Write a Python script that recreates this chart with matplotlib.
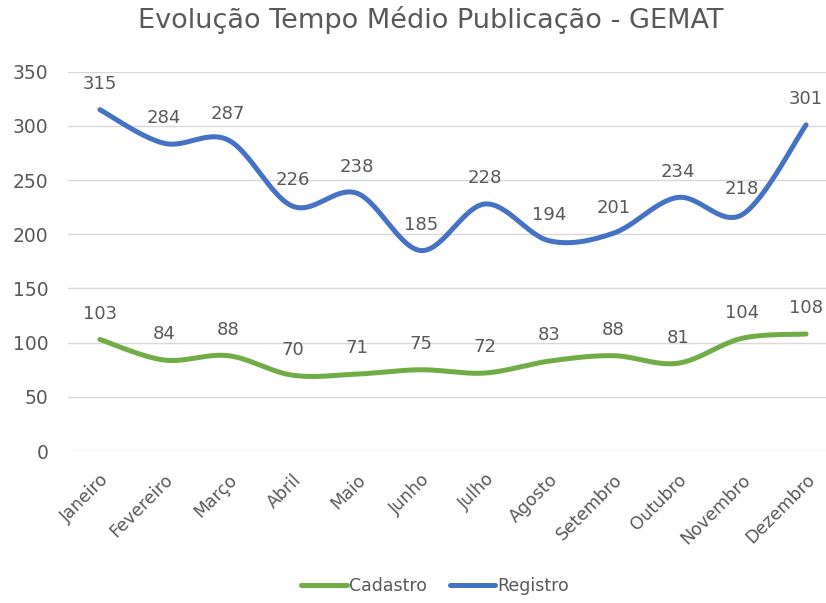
from matplotlib import pyplot as plt
import numpy as np

meses = ['Janeiro', 'Fevereiro', 'Março', 'Abril', 'Maio', 'Junho', 'Julho',
         'Agosto', 'Setembro', 'Outubro', 'Novembro', 'Dezembro']
cadastro = [103, 84, 88, 70, 71, 75, 72, 83, 88, 81, 104, 108]
registro = [315, 284, 287, 226, 238, 185, 228, 194, 201, 234, 218, 301]

cinza = '#595959'
plt.rcParams['font.family'] = ['DejaVu Sans']


def suave(x, y, n=30):
    # curva suavizada estilo Excel (Catmull-Rom em Bezier)
    x = np.asarray(x, float)
    y = np.asarray(y, float)
    px = np.concatenate([[x[0]], x, [x[-1]]])
    py = np.concatenate([[y[0]], y, [y[-1]]])
    xs, ys = [], []
    t = np.linspace(0, 1, n)
    for i in range(1, len(px) - 2):
        p0 = np.array([px[i], py[i]])
        p3 = np.array([px[i + 1], py[i + 1]])
        c1 = p0 + (np.array([px[i + 1], py[i + 1]]) - np.array([px[i - 1], py[i - 1]])) / 6
        c2 = p3 - (np.array([px[i + 2], py[i + 2]]) - np.array([px[i], py[i]])) / 6
        b = ((1 - t) ** 3)[:, None] * p0 + (3 * (1 - t) ** 2 * t)[:, None] * c1 \
            + (3 * (1 - t) * t ** 2)[:, None] * c2 + (t ** 3)[:, None] * p3
        xs.extend(b[:, 0])
        ys.extend(b[:, 1])
    return xs, ys


fig = plt.figure(figsize=(8.26, 6.03), dpi=100)
ax = fig.add_axes([0.082, 0.252, 0.918, 0.629])

x = np.arange(len(meses))
sx, sy = suave(x, cadastro)
ax.plot(sx, sy, color='#70AD47', lw=3.6, solid_capstyle='round', label='Cadastro')
sx, sy = suave(x, registro)
ax.plot(sx, sy, color='#4472C4', lw=3.6, solid_capstyle='round', label='Registro')

for xi, v in zip(x, cadastro):
    ax.annotate(str(v), (xi, v), xytext=(0, 12), textcoords='offset points',
                ha='center', va='bottom', fontsize=13, color=cinza)
for xi, v in zip(x, registro):
    ax.annotate(str(v), (xi, v), xytext=(0, 12), textcoords='offset points',
                ha='center', va='bottom', fontsize=13, color=cinza)

ax.set_xlim(-0.5, 11.31)
ax.set_ylim(0, 350)
ax.set_yticks(range(0, 351, 50))
ax.set_xticks(x)
ax.set_xticklabels(meses, rotation=45, ha='right', rotation_mode='anchor')
ax.tick_params(axis='y', length=0, pad=14, labelsize=13.5, labelcolor=cinza)
ax.tick_params(axis='x', length=0, pad=14, labelsize=12.5, labelcolor=cinza)
ax.grid(axis='y', color='#D9D9D9', lw=1)
for s in ax.spines.values():
    s.set_visible(False)

fig.suptitle('Evolução Tempo Médio Publicação - GEMAT', fontsize=19.5,
             color=cinza, x=0.522, y=0.99)
fig.legend(loc='center', bbox_to_anchor=(0.527, 0.028), ncol=2, frameon=False,
           fontsize=12.5, labelcolor=cinza, handlelength=2.6, handletextpad=0.15,
           columnspacing=1.3)

plt.savefig('out.png')
